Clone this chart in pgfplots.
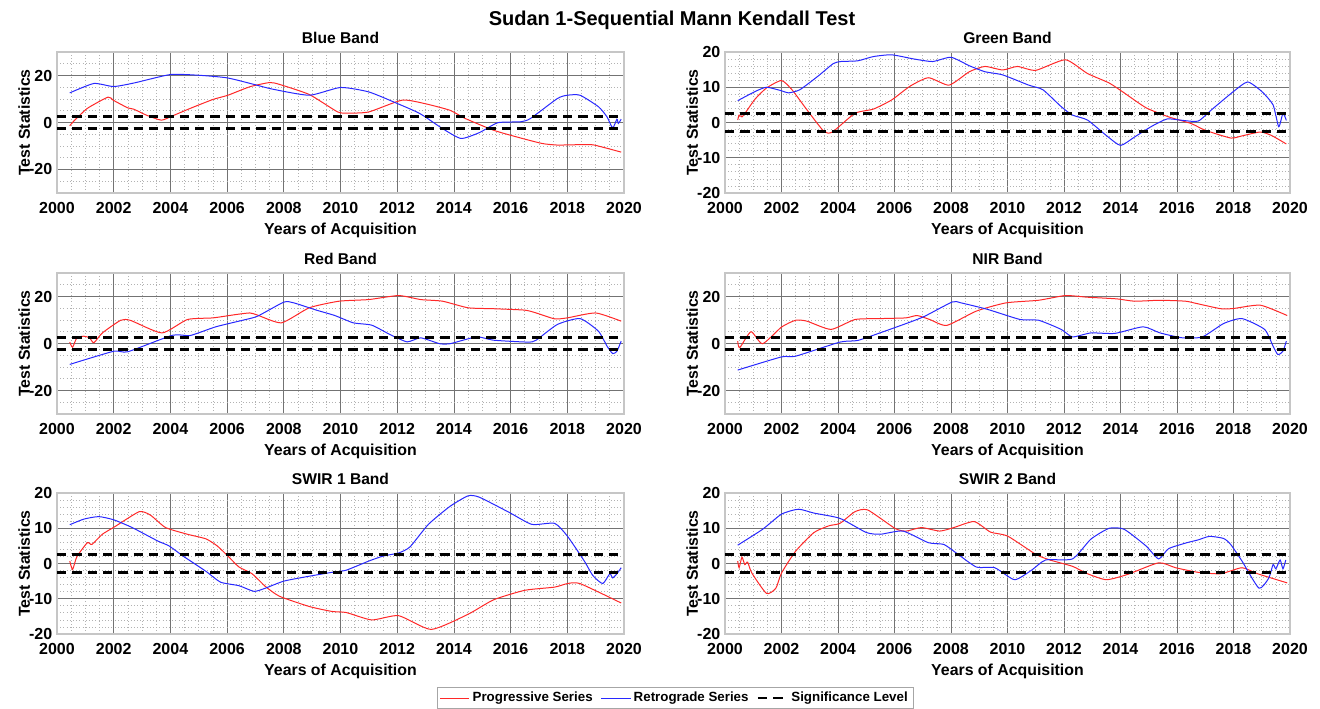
\documentclass[border=0pt]{standalone}
\usepackage{fontspec}
\setmainfont{Liberation Sans}
\usepackage{pgfplots}
\pgfplotsset{compat=1.18}
\definecolor{progc}{RGB}{255,40,40}
\definecolor{retroc}{RGB}{40,40,255}
\pgfplotsset{
  every axis title shift=0pt,
  mkbase/.style={
    scale only axis, height=105.75pt,
    anchor=north west,
    xmin=2000, xmax=2020, xtick={2000,2002,...,2020},
    minor xtick={2000.5,2001,2001.5,2002.5,2003,2003.5,2004.5,2005,2005.5,2006.5,2007,2007.5,2008.5,2009,2009.5,2010.5,2011,2011.5,2012.5,2013,2013.5,2014.5,2015,2015.5,2016.5,2017,2017.5,2018.5,2019,2019.5},
    grid=both,
    major grid style={black!55, line width=0.55pt},
    minor grid style={gray!60, dotted, line width=0.55pt},
    axis line style={gray!45, line width=1.1pt},
    major tick length=0pt, minor tick length=0pt,
    tick label style={font=\bfseries\fontsize{12}{12}\selectfont},
    xticklabel style={inner ysep=0pt, yshift=-7pt},
    yticklabel style={inner ysep=0pt},
    /pgf/number format/assume math mode=true,
    /pgf/number format/set thousands separator={},
    xlabel={Years of Acquisition}, ylabel={Test Statistics},
    label style={font=\bfseries\fontsize{11.9}{13}\selectfont},
    xlabel style={at={(axis description cs:0.5,-0.265)}, anchor=center},
    ylabel style={at={(axis description cs:-0.058,0.5)}, anchor=center},
    title style={at={(axis description cs:0.5,1.099)}, anchor=center, font=\bfseries\fontsize{11.7}{13}\selectfont},
    clip=true,
  },
  band30/.style={ymin=-30, ymax=30, ytick={-20,0,20}, minor ytick={-25,-15,-10,-5,5,10,15,25}},
  band20/.style={ymin=-20, ymax=20, ytick={-20,-10,0,10,20}, minor ytick={-18,-16,-14,-12,-8,-6,-4,-2,2,4,6,8,12,14,16,18}},
  prog/.style={progc, line width=0.75pt, smooth, tension=0.35},
  retro/.style={retroc, line width=0.75pt, smooth, tension=0.35},
  sig/.style={black, line width=2.1pt, dash pattern=on 7pt off 4.5pt},
}
\begin{document}
\begin{tikzpicture}
\path[use as bounding box] (0,0) rectangle (990pt,-531.75pt);
\node[font=\bfseries\fontsize{15}{18}\selectfont] at (504pt,-15.5pt) {Sudan 1-Sequential Mann Kendall Test};

% ---------------- Blue Band
\begin{axis}[mkbase, band30, width=425.25pt, at={(42.75pt,-39pt)}, title={Blue Band}]
\addplot[prog] coordinates {(2000.45,-1.4)(2000.57,0.3)(2001.07,6.0)(2001.8,10.8)(2001.98,9.5)(2002.5,6.2)(2002.7,5.7)(2003.16,3.1)(2003.68,1.0)(2004.07,2.8)(2004.7,6.0)(2005.5,9.8)(2006.03,11.6)(2006.8,15.2)(2007.5,17.0)(2007.85,16.2)(2008.9,11.9)(2009.9,4.5)(2010.3,4.0)(2011,4.5)(2012.17,9.5)(2012.95,8.1)(2013.86,5.2)(2014.4,1.7)(2015.4,-3.3)(2016.2,-6.1)(2017.1,-8.9)(2017.65,-9.6)(2018.55,-9.4)(2018.95,-9.6)(2019.9,-12.6)};
\addplot[retro] coordinates {(2000.45,12.6)(2001.3,16.6)(2002,15.3)(2002.75,16.9)(2004,20.4)(2005,20.1)(2006,19.0)(2006.95,16.2)(2007.6,14.2)(2008.9,11.6)(2010,14.9)(2011,13.0)(2012,8.1)(2012.8,3.8)(2013.6,-2.6)(2014.25,-6.8)(2014.9,-4.3)(2015.55,-0.1)(2016.35,0.3)(2016.7,1.7)(2017.65,10.2)(2018,11.6)(2018.45,11.6)(2019.1,6.7)(2019.4,2.4)(2019.6,-2.3)(2019.75,1.4)(2019.8,-0.4)(2019.9,1.4)};
\addplot[sig] coordinates {(2000,2.576)(2020,2.576)};
\addplot[sig] coordinates {(2000,-2.576)(2020,-2.576)};
\end{axis}

% ---------------- Green Band
\begin{axis}[mkbase, band20, width=423.75pt, at={(543.75pt,-39pt)}, title={Green Band}]
\addplot[prog] coordinates {(2000.45,0.7)(2000.5,2.1)(2000.6,1.6)(2000.75,3.1)(2001.07,6.7)(2001.47,9.8)(2002,11.9)(2002.37,9.3)(2002.9,3.6)(2003.5,-2.5)(2003.8,-2.7)(2004.6,2.6)(2005.25,3.8)(2005.9,6.4)(2006.55,10.3)(2007.2,12.7)(2007.93,10.6)(2008.65,14.4)(2009.2,15.9)(2009.83,14.9)(2010.35,15.9)(2011,14.8)(2012.05,17.8)(2012.83,13.9)(2013.6,11.2)(2014.13,8.4)(2014.9,4.2)(2015.7,1.6)(2016.5,-0.3)(2017,-2.2)(2017.9,-4.4)(2018.3,-3.8)(2018.95,-2.7)(2019.35,-3.7)(2019.87,-6.1)};
\addplot[retro] coordinates {(2000.45,6.2)(2001.07,8.8)(2001.47,10.0)(2002,9.0)(2002.25,8.4)(2002.65,9.3)(2003.3,13.2)(2003.83,16.7)(2004.1,17.3)(2004.7,17.5)(2005.25,18.7)(2005.9,19.2)(2006.7,18.0)(2007.35,17.3)(2008,18.5)(2008.65,16.1)(2009.2,14.4)(2009.83,13.5)(2010.75,10.6)(2011.25,9.3)(2011.9,4.5)(2012.3,2.1)(2012.83,0.7)(2013.5,-3.7)(2014,-6.5)(2014.5,-4.1)(2015.1,-1.1)(2015.65,1.0)(2016.2,0.6)(2016.75,0.4)(2017.25,3.8)(2018,8.8)(2018.5,11.5)(2019,8.8)(2019.4,5.0)(2019.6,-1.2)(2019.75,2.6)(2019.87,0.6)};
\addplot[sig] coordinates {(2000,2.576)(2020,2.576)};
\addplot[sig] coordinates {(2000,-2.576)(2020,-2.576)};
\end{axis}

% ---------------- Red Band
\begin{axis}[mkbase, band30, width=425.25pt, at={(42.75pt,-204.75pt)}, title={Red Band}]
\addplot[prog] coordinates {(2000.45,0.6)(2000.55,-1.6)(2000.7,2.4)(2000.95,3.1)(2001.15,2.4)(2001.3,0.3)(2001.6,4.5)(2002.25,9.9)(2002.6,9.8)(2003.7,4.5)(2004.6,10.2)(2005.5,10.9)(2006.3,12.3)(2006.8,13.0)(2007.07,12.1)(2007.92,8.8)(2008.9,15.2)(2009.95,18.0)(2011,18.7)(2012.05,20.4)(2012.83,18.7)(2013.6,18.0)(2014.5,15.2)(2015.4,14.8)(2016.5,14.2)(2016.9,13.0)(2017.55,10.5)(2018,10.9)(2019,13.0)(2019.9,9.5)};
\addplot[retro] coordinates {(2000.45,-8.9)(2002,-3.3)(2002.5,-3.5)(2004.07,3.5)(2004.7,3.4)(2005.6,7.1)(2006.55,9.9)(2007.07,11.6)(2008,17.6)(2008.35,17.3)(2009.15,14.2)(2009.8,11.9)(2010.45,8.8)(2011.1,7.8)(2011.75,3.8)(2012.35,0.7)(2012.83,2.4)(2013.5,-0.1)(2013.86,-0.1)(2014.8,2.8)(2015.4,1.4)(2016.6,0.6)(2016.9,1.4)(2017.65,8.1)(2018.45,10.6)(2019.1,5.2)(2019.4,-1.1)(2019.6,-4.3)(2019.75,-3.3)(2019.9,1.0)};
\addplot[sig] coordinates {(2000,2.576)(2020,2.576)};
\addplot[sig] coordinates {(2000,-2.576)(2020,-2.576)};
\end{axis}

% ---------------- NIR Band
\begin{axis}[mkbase, band30, width=423.75pt, at={(543.75pt,-204.75pt)}, title={NIR Band}]
\addplot[prog] coordinates {(2000.45,1.0)(2000.52,-1.8)(2000.92,5.0)(2001.33,-0.1)(2002,7.0)(2002.5,9.9)(2002.9,9.5)(2003.75,6.0)(2004.6,10.2)(2005.5,10.6)(2006.4,10.9)(2006.8,11.9)(2007.25,10.2)(2007.85,7.7)(2008.9,13.8)(2009.95,17.3)(2011.1,18.4)(2012.05,20.4)(2012.83,19.7)(2013.86,19.0)(2014.5,18.0)(2015.4,18.4)(2016.3,18.0)(2016.7,17.0)(2017.55,14.8)(2018,14.9)(2018.95,16.3)(2019.9,11.9)};
\addplot[retro] coordinates {(2000.45,-11.3)(2002,-5.7)(2002.5,-5.4)(2004.07,0.6)(2004.7,1.3)(2005.6,5.0)(2006.55,9.1)(2007.07,11.6)(2008.05,17.7)(2008.35,17.3)(2009.3,14.5)(2010.45,10.2)(2011.1,9.9)(2011.9,6.0)(2012.3,2.8)(2012.95,4.5)(2013.8,4.3)(2014.8,7.1)(2015.4,4.5)(2016.2,2.4)(2016.9,2.8)(2017.65,8.5)(2018.3,10.6)(2019.1,6.0)(2019.4,-1.1)(2019.57,-4.7)(2019.75,-3.3)(2019.87,1.0)};
\addplot[sig] coordinates {(2000,2.576)(2020,2.576)};
\addplot[sig] coordinates {(2000,-2.576)(2020,-2.576)};
\end{axis}

% ---------------- SWIR 1 Band
\begin{axis}[mkbase, band20, width=425.25pt, at={(42.75pt,-369.75pt)}, title={SWIR 1 Band},
  legend columns=3,
  legend style={at={(1.09,-0.454)}, anchor=center, draw=gray!70, fill=white,
    font=\bfseries\fontsize{10}{12}\selectfont, inner xsep=2pt, inner ysep=1.5pt,
    /tikz/every even column/.append style={column sep=4pt}},
  legend image code/.code={\draw[#1] plot coordinates {(0pt,0pt) (22pt,0pt)};},
  legend cell align=left]
\addplot[prog] coordinates {(2000.45,0.7)(2000.55,-1.7)(2000.7,1.9)(2001.07,5.9)(2001.23,5.4)(2001.6,8.3)(2002.05,10.5)(2002.9,14.7)(2003.3,13.7)(2003.83,10.2)(2004.6,8.3)(2005.25,7.0)(2005.65,5.0)(2006.03,2.1)(2006.42,-1.0)(2006.88,-2.9)(2007.35,-6.5)(2007.85,-9.3)(2008.9,-12.2)(2009.7,-13.6)(2010.2,-13.9)(2011.1,-16.0)(2012.05,-14.8)(2013.2,-18.7)(2014.5,-14.4)(2015.4,-10.3)(2016.5,-7.6)(2017.55,-6.7)(2018,-5.7)(2018.45,-5.7)(2019.9,-11.2)};
\addlegendentry{Progressive Series}
\addplot[retro] coordinates {(2000.45,11.0)(2000.95,12.6)(2001.47,13.3)(2002,12.4)(2002.65,10.2)(2003.55,6.4)(2003.95,5.0)(2004.45,2.1)(2005.25,-2.2)(2005.77,-5.3)(2006.42,-6.3)(2006.95,-7.9)(2007.35,-7.0)(2008,-5.0)(2008.9,-3.6)(2009.7,-2.5)(2010.2,-1.9)(2011,0.7)(2011.5,2.1)(2012.05,3.0)(2012.45,4.7)(2013.1,11.1)(2013.86,16.2)(2014.5,19.2)(2014.9,18.8)(2015.95,14.5)(2016.75,11.1)(2017.55,11.4)(2018,7.8)(2018.6,0.7)(2018.9,-3.4)(2019.25,-5.7)(2019.5,-2.9)(2019.6,-4.1)(2019.75,-2.9)(2019.9,-1.2)};
\addlegendentry{Retrograde Series}
\addplot[sig] coordinates {(2000,2.576)(2020,2.576)};
\addlegendentry{Significance Level}
\addplot[sig, forget plot] coordinates {(2000,-2.576)(2020,-2.576)};
\end{axis}

% ---------------- SWIR 2 Band
\begin{axis}[mkbase, band20, width=423.75pt, at={(543.75pt,-369.75pt)}, title={SWIR 2 Band}]
\addplot[prog] coordinates {(2000.45,0.7)(2000.5,-1.2)(2000.6,1.8)(2000.7,-0.3)(2000.8,0.4)(2000.95,-2.7)(2001.47,-8.5)(2001.8,-7.0)(2002,-2.7)(2002.5,3.5)(2003.15,8.8)(2003.68,10.7)(2004.07,11.4)(2004.6,14.7)(2005.05,15.2)(2006.03,9.9)(2006.42,9.2)(2006.95,10.2)(2007.6,9.2)(2008.1,10.2)(2008.82,11.9)(2009.4,8.9)(2010,7.8)(2011,2.6)(2011.5,1.0)(2012.3,-0.8)(2012.83,-2.9)(2013.5,-4.6)(2014.25,-3.1)(2015.35,0.2)(2015.95,-1.2)(2016.75,-2.5)(2017.55,-2.9)(2018.3,-1.2)(2018.85,-2.9)(2019.9,-5.5)};
\addplot[retro] coordinates {(2000.45,5.2)(2001.33,9.7)(2002,14.0)(2002.6,15.4)(2003.15,14.3)(2004.07,12.8)(2005,8.8)(2005.5,8.3)(2006.3,9.2)(2007.2,5.9)(2007.75,5.4)(2008.25,2.6)(2008.9,-1.0)(2009.55,-1.2)(2010.25,-4.6)(2010.85,-1.9)(2011.35,1.0)(2012.3,1.3)(2012.95,6.9)(2013.6,10.0)(2014.13,9.7)(2014.9,5.0)(2015.35,1.3)(2015.7,4.2)(2016.35,5.9)(2016.75,6.7)(2017.15,7.7)(2017.65,7.1)(2017.9,5.4)(2018.3,0.7)(2018.9,-7.0)(2019.25,-4.1)(2019.4,-0.3)(2019.5,-1.5)(2019.65,1.0)(2019.75,-1.5)(2019.85,1.0)};
\addplot[sig] coordinates {(2000,2.576)(2020,2.576)};
\addplot[sig] coordinates {(2000,-2.576)(2020,-2.576)};
\end{axis}
\end{tikzpicture}
\end{document}
